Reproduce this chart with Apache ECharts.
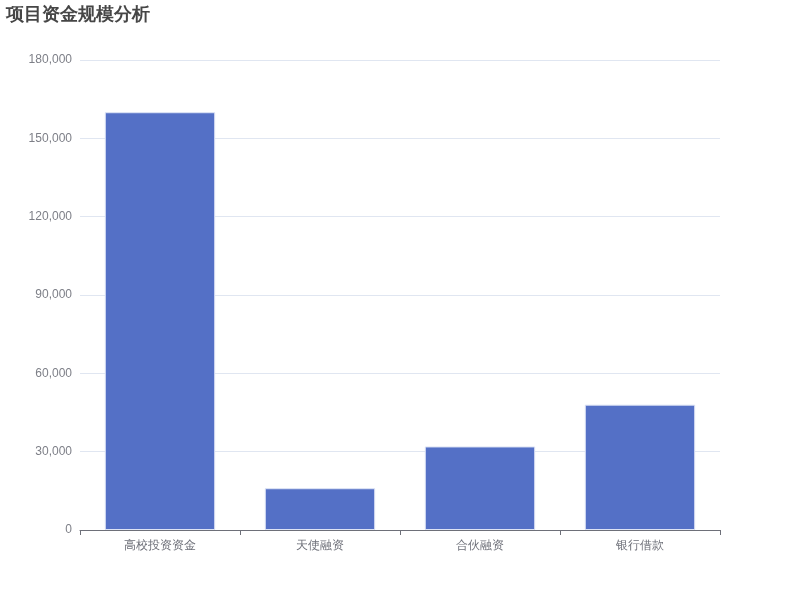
<!DOCTYPE html>
<html>
<head>
<meta charset="utf-8">
<script src="https://cdn.jsdelivr.net/npm/echarts@6/dist/echarts.min.js"></script>
<style>
  html, body { margin: 0; padding: 0; background: #fff; }
  #main { width: 800px; height: 600px; }
</style>
</head>
<body>
<div id="main"></div>
<script>
// 数据
const categories = ["高校投资资金", "天使融资", "合伙融资", "银行借款"];
const amounts = [160000, 16000, 32000, 48000];

const chart = echarts.init(document.getElementById("main"), null, { renderer: "canvas" });

chart.setOption({
  title: {
    text: "项目资金规模分析",
    left: 1,
    top: 1,
    textStyle: { fontSize: 18, fontWeight: "bold", color: "#464646" }
  },
  grid: { left: 80, right: 80, top: 60, bottom: 70 },
  xAxis: {
    type: "category",
    data: categories,
    axisLine: { lineStyle: { color: "#6e7079" } },
    axisTick: { show: true, alignWithLabel: false, length: 5, lineStyle: { color: "#6e7079" } },
    axisLabel: { color: "#6e7079", fontSize: 12, margin: 10 }
  },
  yAxis: {
    type: "value",
    min: 0,
    max: 180000,
    interval: 30000,
    axisLabel: {
      color: "#7d7f87",
      verticalAlign: "middle",
      padding: [5, 0, 0, 0],
      formatter: (v) => v.toLocaleString("en-US")
    },
    splitLine: { lineStyle: { color: "#e0e6f1" } }
  },
  series: [
    {
      type: "bar",
      data: amounts,
      barWidth: "69%",
      itemStyle: { color: "#5470c6", borderColor: "#dde3f5", borderWidth: 1 }
    }
  ]
});
</script>
</body>
</html>
